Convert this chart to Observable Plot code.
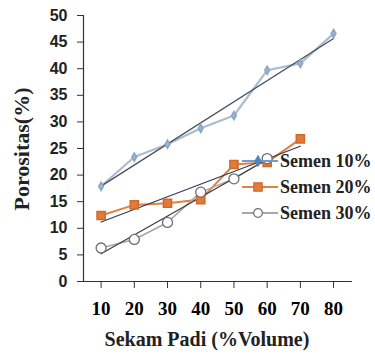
<!DOCTYPE html>
<html><head><meta charset="utf-8">
<script src="https://cdn.jsdelivr.net/npm/d3@7"></script>
<script src="https://cdn.jsdelivr.net/npm/@observablehq/plot@0.6"></script>
<style>html,body{margin:0;padding:0;background:#fff} #chart svg{display:block}</style>
</head><body><div id="chart"></div>
<script>
// ---- data ----
const sekamPadi = [10, 20, 30, 40, 50, 60, 70, 80];
const semen10 = [17.9, 23.4, 25.8, 28.8, 31.2, 39.7, 41.0, 46.6];
const semen20 = [12.4, 14.4, 14.7, 15.4, 22.0, 22.4, 26.8];
const semen30 = [6.3, 7.9, 11.1, 16.8, 19.3, 23.1];
const seriesNames = ["Semen 10%", "Semen 20%", "Semen 30%"];
const yTicks = [0, 5, 10, 15, 20, 25, 30, 35, 40, 45, 50];
const xTicks = [10, 20, 30, 40, 50, 60, 70, 80];
const xTitle = "Sekam Padi (%Volume)";
const yTitle = "Porositas(%)";

const rows = (vals, name) => vals.map((v, i) => ({x: sekamPadi[i], y: v, s: name}));
const d10 = rows(semen10, seriesNames[0]);
const d20 = rows(semen20, seriesNames[1]);
const d30 = rows(semen30, seriesNames[2]);

const serif = "'Liberation Serif', 'Times New Roman', serif";
const sans = "'Liberation Sans', Arial, sans-serif";

const W = 375, H = 361;
const plot = Plot.plot({
  width: W, height: H,
  marginLeft: 83, marginRight: 23, marginTop: 15, marginBottom: 80,
  style: {background: "#fff", overflow: "visible"},
  x: {type: "linear", domain: [4.7, 85.7], axis: null},
  y: {domain: [0, 50], axis: null},
  marks: [
    // axes lines
    Plot.ruleX([4.7], {y1: 0, y2: 50, stroke: "#333", strokeWidth: 1.2}),
    Plot.ruleY([0], {stroke: "#333", strokeWidth: 1.2}),
    Plot.axisY({ticks: yTicks, tickSize: 6, tickPadding: 10, fontSize: 16, fontWeight: "bold",
      fontFamily: sans, stroke: "#333", label: null, color: "#222"}),
    Plot.axisX({ticks: xTicks, tickSize: 7, tickPadding: 13, fontSize: 19, fontWeight: "bold",
      fontFamily: serif, stroke: "#333", label: null, tickFormat: d => String(d)}),
    // data lines
    Plot.line(d10, {x: "x", y: "y", stroke: "#a9bdd2", strokeWidth: 2.2}),
    Plot.line(d20, {x: "x", y: "y", stroke: "#e0813f", strokeWidth: 2}),
    Plot.line(d30, {x: "x", y: "y", stroke: "#a8a8a8", strokeWidth: 1.6}),
    // trend lines (least squares fit of each series)
    Plot.linearRegressionY(d10, {x: "x", y: "y", stroke: "#4a5058", strokeWidth: 1.3, ci: 0}),
    Plot.linearRegressionY(d20, {x: "x", y: "y", stroke: "#2f3a55", strokeWidth: 1.2, ci: 0}),
    Plot.linearRegressionY(d30, {x: "x", y: "y", stroke: "#3c3c3c", strokeWidth: 1.2, ci: 0}),
    // markers
    Plot.dot(d10, {x: "x", y: "y", symbol: "diamond", r: 2.5, fill: "#9cb6d0", stroke: "#8aa6c4"}),
    Plot.dot(d20, {x: "x", y: "y", symbol: "square", r: 4.6, fill: "#e07b39", stroke: "#d06a2a"}),
    Plot.dot(d30, {x: "x", y: "y", symbol: "circle", r: 5, fill: "#fff", stroke: "#6e6e6e", strokeWidth: 1.3})
  ]
});
document.getElementById("chart").appendChild(plot);

const svg = d3.select(plot);
// axis titles
svg.append("text").text(xTitle)
  .attr("x", 207).attr("y", 346).attr("text-anchor", "middle")
  .attr("font-family", serif).attr("font-weight", "bold").attr("font-size", 20).attr("fill", "#222");
svg.append("text").text(yTitle)
  .attr("transform", "translate(29,149) rotate(-90)").attr("text-anchor", "middle")
  .attr("font-family", serif).attr("font-weight", "bold").attr("font-size", 22).attr("fill", "#222");

// legend
const legendStyles = [
  {stroke: "#6f9bd0", sym: "diamond", fill: "#4f86c6", sstroke: "#4f86c6", size: 30},
  {stroke: "#e0813f", sym: "square", fill: "#e07b39", sstroke: "#d06a2a", size: 70},
  {stroke: "#a8a8a8", sym: "circle", fill: "#fff", sstroke: "#6e6e6e", size: 60}
];
const symMap = {diamond: d3.symbolDiamond, square: d3.symbolSquare, circle: d3.symbolCircle};
const lg = svg.append("g");
seriesNames.forEach((name, i) => {
  const cy = 161 + i * 26;
  const st = legendStyles[i];
  lg.append("line").attr("x1", 242).attr("x2", 278).attr("y1", cy).attr("y2", cy)
    .attr("stroke", st.stroke).attr("stroke-width", 1.8);
  lg.append("path").attr("d", d3.symbol(symMap[st.sym], st.size)())
    .attr("transform", `translate(258,${cy})`).attr("fill", st.fill).attr("stroke", st.sstroke).attr("stroke-width", 1.2);
  lg.append("text").text(name).attr("x", 280).attr("y", cy + 6).attr("text-anchor", "start")
    .attr("font-family", serif).attr("font-weight", "bold").attr("font-size", 18).attr("fill", "#222");
});
</script>
</body></html>
